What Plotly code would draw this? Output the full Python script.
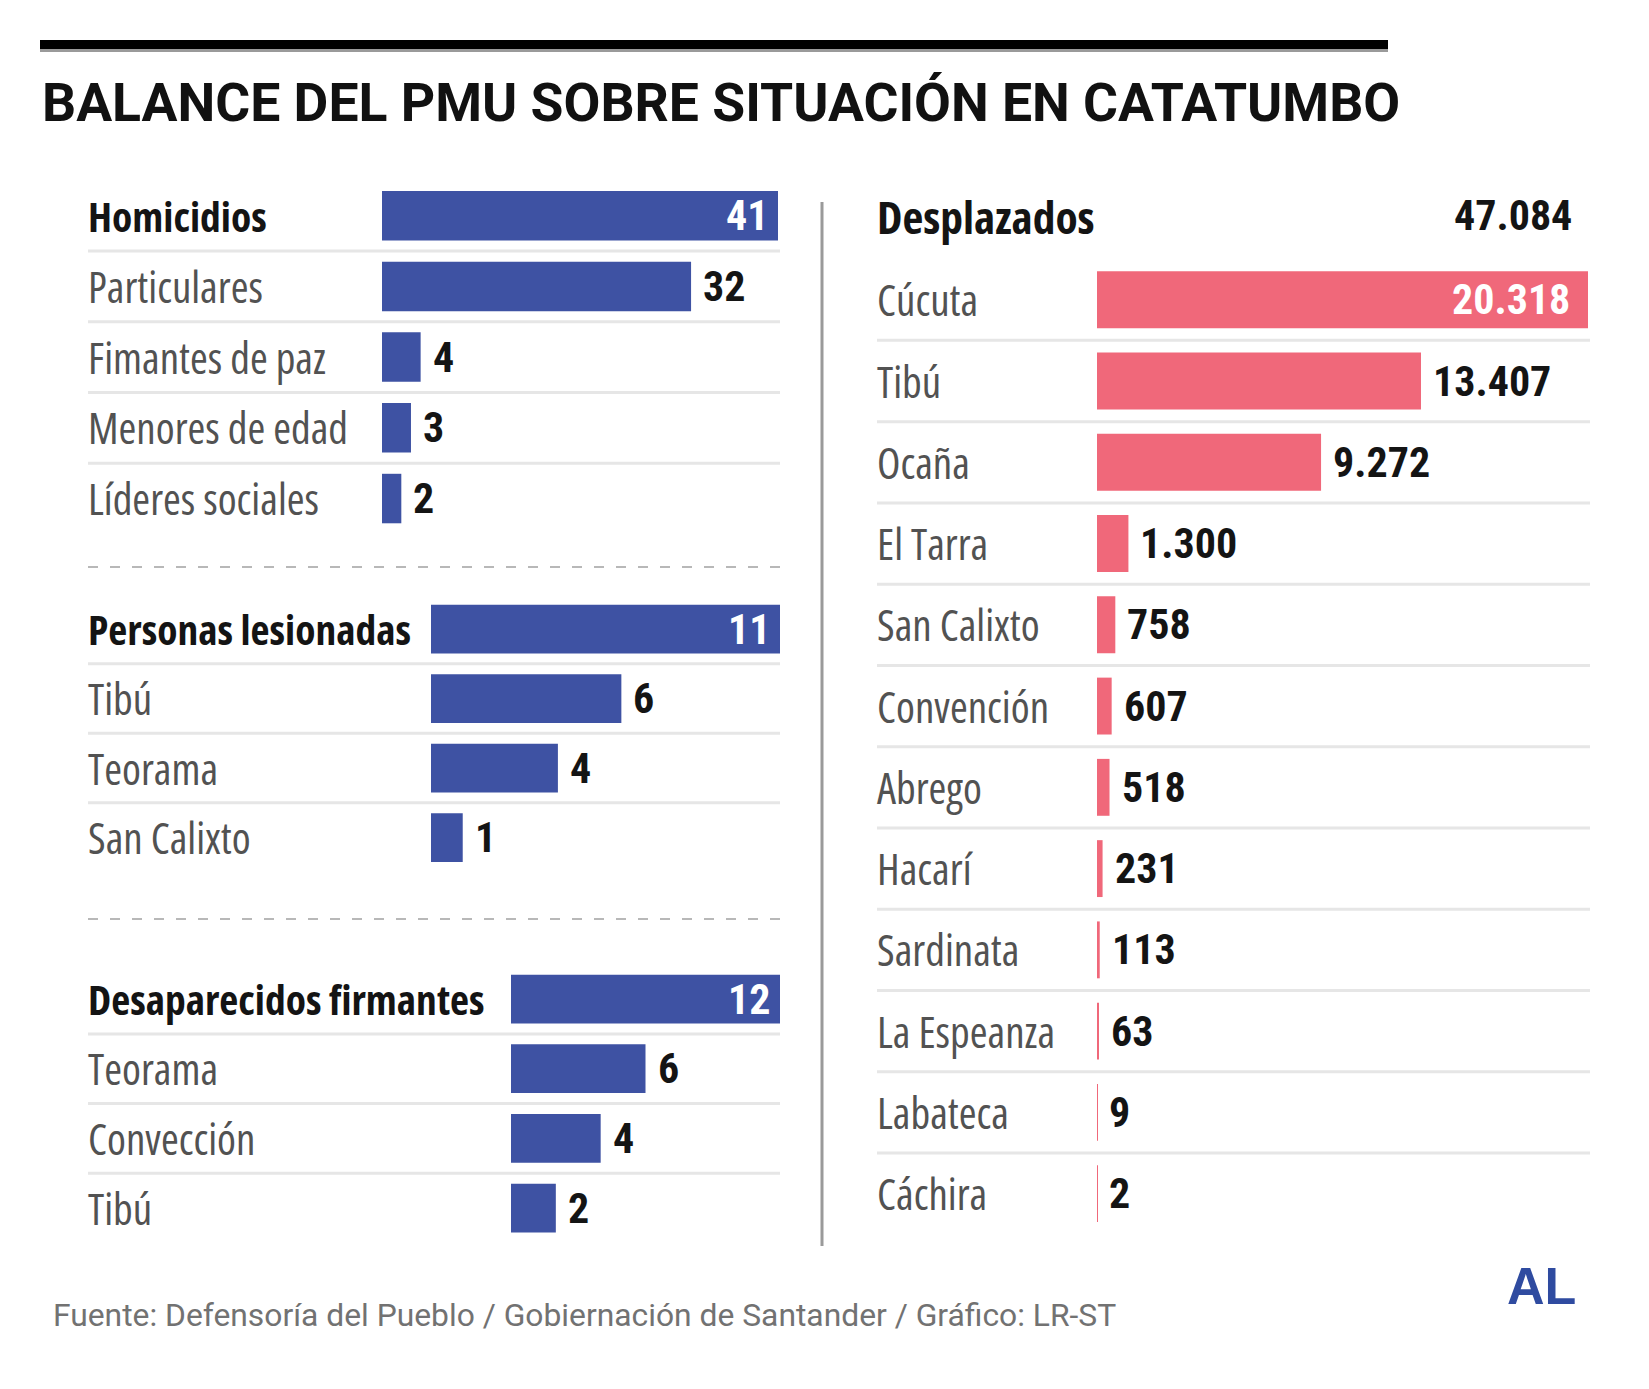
import plotly.graph_objects as go

# page body has an 8px margin: the figure is drawn inside it
OFF = 8
W, H = 1649 - 2 * OFF, 1389 - 2 * OFF

# ---------------- data ----------------
title_text = "BALANCE DEL PMU SOBRE SITUACIÓN EN CATATUMBO"
source_text = "Fuente: Defensoría del Pueblo / Gobiernación de Santander / Gráfico: LR-ST"
logo_text = "AL"

hom_labels = ["Homicidios", "Particulares", "Fimantes de paz", "Menores de edad", "Líderes sociales"]
hom_values = [41, 32, 4, 3, 2]

les_labels = ["Personas lesionadas", "Tibú", "Teorama", "San Calixto"]
les_values = [11, 6, 4, 1]

des_labels = ["Desaparecidos firmantes", "Teorama", "Convección", "Tibú"]
des_values = [12, 6, 4, 2]

desp_header = "Desplazados"
desp_total = 47084
desp_labels = ["Cúcuta", "Tibú", "Ocaña", "El Tarra", "San Calixto", "Convención",
               "Abrego", "Hacarí", "Sardinata", "La Espeanza", "Labateca", "Cáchira"]
desp_values = [20318, 13407, 9272, 1300, 758, 607, 518, 231, 113, 63, 9, 2]

# ---------------- style ----------------
BLUE = "#3e52a3"
PINK = "#f0687a"
LABEL_GREY = "#525252"
DARK = "#141414"
LBL_SIZE = 43
HEAD_SIZE = 41.5
VAL_SIZE = 42
F_LABEL = "Open Sans"
F_VAL = "Roboto"


def cond(t, stretch="condensed"):
    return f'<span style="font-stretch:{stretch}">{t}</span>'


def fx(px):
    return (px - OFF) / W


def fy(py):
    return 1 - (py - OFF) / H


def fmt(v):
    return f"{v:,}".replace(",", ".")


panels = [
    dict(labels=hom_labels, values=hom_values, color=BLUE, x0=382, x1=778,
         top=180.3, bottom=533.9, lab_x=86, line=(88, 780), bold_first=True, in_shift=-8),
    dict(labels=les_labels, values=les_values, color=BLUE, x0=431, x1=780,
         top=594.3, bottom=872.3, lab_x=86, line=(88, 780), bold_first=True, in_shift=-8),
    dict(labels=des_labels, values=des_values, color=BLUE, x0=511, x1=780,
         top=964.2, bottom=1242.9, lab_x=86, line=(88, 780), bold_first=True, in_shift=-8),
    dict(labels=desp_labels, values=desp_values, color=PINK, x0=1097, x1=1588,
         top=259.1, bottom=1234.3, lab_x=875, line=(877, 1590), bold_first=False, in_shift=-16),
]

fig = go.Figure()
annotations = []
shapes = []
layout_axes = {}

for k, p in enumerate(panels, start=1):
    n = len(p["values"])
    ys = list(range(n))
    fig.add_trace(go.Bar(
        x=p["values"], y=ys, orientation="h",
        marker=dict(color=p["color"], line=dict(width=0)),
        width=0.7, hoverinfo="skip", showlegend=False,
        xaxis=f"x{k}", yaxis=f"y{k}",
    ))
    sfx = "" if k == 1 else str(k)
    layout_axes[f"xaxis{sfx}"] = dict(domain=[fx(p["x0"]), fx(p["x1"])], range=[0, max(p["values"])],
                                      visible=False, anchor=f"y{k}", fixedrange=True)
    layout_axes[f"yaxis{sfx}"] = dict(domain=[fy(p["bottom"]), fy(p["top"])], range=[n - 0.5, -0.5],
                                      visible=False, anchor=f"x{k}", fixedrange=True)
    for i, (lab, v) in enumerate(zip(p["labels"], p["values"])):
        bold = p["bold_first"] and i == 0
        annotations.append(dict(
            text=cond(lab), xref="paper", yref=f"y{k}", x=fx(p["lab_x"]), y=i,
            xanchor="left", yanchor="middle", showarrow=False,
            font=dict(family=F_LABEL, size=HEAD_SIZE if bold else LBL_SIZE,
                      color=DARK if bold else LABEL_GREY,
                      weight="bold" if bold else "normal"),
        ))
        if i == 0:
            annotations.append(dict(
                text=cond(fmt(v)), xref=f"x{k}", yref=f"y{k}", x=v, y=i,
                xanchor="right", yanchor="middle", xshift=p["in_shift"], showarrow=False,
                font=dict(family=F_VAL, size=VAL_SIZE, color="white", weight="bold"),
            ))
        else:
            annotations.append(dict(
                text=cond(fmt(v)), xref=f"x{k}", yref=f"y{k}", x=v, y=i,
                xanchor="left", yanchor="middle", xshift=10, showarrow=False,
                font=dict(family=F_VAL, size=VAL_SIZE, color=DARK, weight="bold"),
            ))
    for i in range(n - 1):
        shapes.append(dict(type="line", xref="paper", yref=f"y{k}",
                           x0=fx(p["line"][0]), x1=fx(p["line"][1]), y0=i + 0.5, y1=i + 0.5,
                           line=dict(color="#e6e6e6", width=3), layer="below"))

# right panel header
annotations.append(dict(text=cond(desp_header), xref="paper", yref="paper", x=fx(875), y=fy(215.6),
                        xanchor="left", yanchor="middle", showarrow=False,
                        font=dict(family=F_LABEL, size=45.5, color=DARK, weight="bold")))
annotations.append(dict(text=cond(fmt(desp_total)), xref="paper", yref="paper", x=fx(1574), y=fy(215.6),
                        xanchor="right", yanchor="middle", showarrow=False,
                        font=dict(family=F_VAL, size=VAL_SIZE, color=DARK, weight="bold")))

# title, source, logo
annotations.append(dict(text=title_text, xref="paper", yref="paper",
                        x=fx(40), y=fy(103), xanchor="left", yanchor="middle", showarrow=False,
                        font=dict(family="Roboto", size=53.5, color="#111111", weight="bold")))
annotations.append(dict(text=source_text, xref="paper", yref="paper",
                        x=fx(51), y=fy(1315), xanchor="left", yanchor="middle", showarrow=False,
                        font=dict(family="Roboto", size=31.8, color="#727272")))
annotations.append(dict(text=logo_text, xref="paper", yref="paper", x=fx(1578), y=fy(1286),
                        xanchor="right", yanchor="middle", showarrow=False,
                        font=dict(family="Liberation Sans, Arial, sans-serif", size=52,
                                  color="#2f4ba0", weight="bold")))

# top rule + shadow
shapes.append(dict(type="rect", xref="paper", yref="paper", x0=fx(40), x1=fx(1388),
                   y0=fy(52), y1=fy(49), fillcolor="#9a9a9a", line=dict(width=0)))
shapes.append(dict(type="rect", xref="paper", yref="paper", x0=fx(40), x1=fx(1388),
                   y0=fy(49), y1=fy(40), fillcolor="#000000", line=dict(width=0)))
# dashed separators
for yy in (567, 919):
    shapes.append(dict(type="line", xref="paper", yref="paper", x0=fx(88), x1=fx(780),
                       y0=fy(yy), y1=fy(yy), line=dict(color="#b8b8b8", width=2, dash="10px,12px")))
# vertical divider
shapes.append(dict(type="line", xref="paper", yref="paper", x0=fx(822), x1=fx(822),
                   y0=fy(202), y1=fy(1246), line=dict(color="#9a9a9a", width=3)))

fig.update_layout(
    width=W, height=H, margin=dict(l=0, r=0, t=0, b=0),
    paper_bgcolor="white", plot_bgcolor="rgba(0,0,0,0)",
    annotations=annotations, shapes=shapes, bargap=0.3,
    **layout_axes,
)

fig.write_html("out.html")
